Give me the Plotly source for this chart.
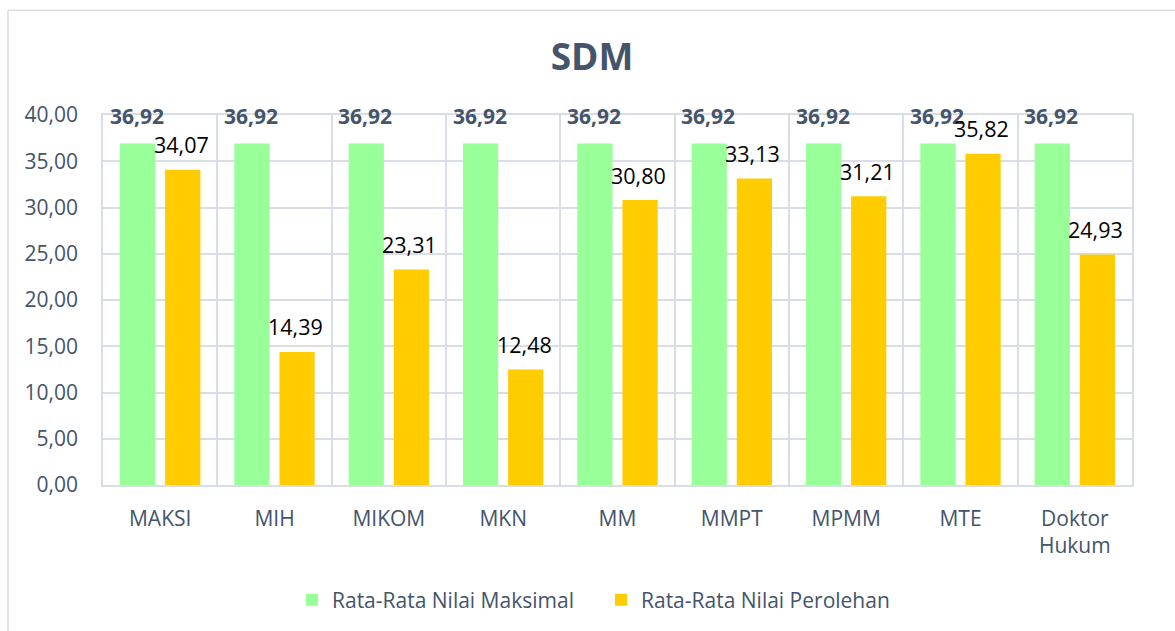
import plotly.graph_objects as go

categories = ["MAKSI", "MIH", "MIKOM", "MKN", "MM", "MMPT", "MPMM", "MTE", "Doktor<br>Hukum"]
maksimal = [36.92, 36.92, 36.92, 36.92, 36.92, 36.92, 36.92, 36.92, 36.92]
perolehan = [34.07, 14.39, 23.31, 12.48, 30.80, 33.13, 31.21, 35.82, 24.93]
y_ticks = [0, 5, 10, 15, 20, 25, 30, 35, 40]

def fmt(v):
    return f"{v:.2f}".replace(".", ",")

FONT = "Open Sans"
SLATE = "#44546a"
GRID = "#d9dee6"

fig = go.Figure()
fig.add_trace(go.Bar(name="Rata-Rata Nilai Maksimal", x=categories, y=maksimal,
                     marker=dict(color="#99ff99", line=dict(width=0)),
                     offsetgroup="a"))
fig.add_trace(go.Bar(name="Rata-Rata Nilai Perolehan", x=categories, y=perolehan,
                     marker=dict(color="#ffcc00", line=dict(width=0)),
                     offsetgroup="b"))

W, H = 1175, 631
L, T, R, B = 103, 115, 43, 145
pw = W - L - R
ph = H - T - B
n = len(categories)
for c, m, p in zip(categories, maksimal, perolehan):
    fig.add_annotation(x=c, y=m, text=f"<b>{fmt(m)}</b>", showarrow=False,
                       xshift=-pw / n * 0.205, yshift=27, yanchor="middle",
                       font=dict(family=FONT, size=21, color=SLATE))
    fig.add_annotation(x=c, y=p, text=fmt(p), showarrow=False,
                       xshift=pw / n * 0.185, yshift=25, yanchor="middle",
                       font=dict(family=FONT, size=21.5, color="#000000"))

# outer chart border (top and left)
ytop = (H - B - 10) / ph
xleft = (8 - L) / pw
fig.add_shape(type="line", xref="paper", yref="paper",
              x0=xleft, x1=(W + 20 - L) / pw, y0=ytop, y1=ytop,
              line=dict(color=GRID, width=1.5))
fig.add_shape(type="line", xref="paper", yref="paper",
              x0=xleft, x1=xleft, y0=ytop, y1=(H - B - H - 20) / ph,
              line=dict(color=GRID, width=1.5))

fig.update_layout(
    width=W, height=H,
    margin=dict(l=L, r=R, t=T, b=B),
    paper_bgcolor="white", plot_bgcolor="white",
    separators=",.",
    barmode="group", bargap=0.21, bargroupgap=0.22,
    title=dict(text="<b>SDM</b>", x=592 / W, xanchor="center", y=1 - 57 / H, yanchor="middle",
               font=dict(family=FONT, size=37, color=SLATE)),
    legend=dict(orientation="h", x=(292 - L) / pw, xanchor="left", y=-(600 - (H - B)) / ph,
                yanchor="middle", font=dict(family=FONT, size=21, color=SLATE),
                itemwidth=30, entrywidth=264, entrywidthmode="pixels",
                traceorder="normal"),
    xaxis=dict(type="category", tickson="boundaries", showgrid=True, gridcolor=GRID,
               gridwidth=1.5, showline=True, linecolor=GRID, linewidth=1.5, mirror=True,
               ticks="", ticklabelstandoff=14,
               tickfont=dict(family=FONT, size=21, color=SLATE)),
    yaxis=dict(range=[0, 40], tickvals=y_ticks, tickformat=".2f", showgrid=True,
               gridcolor=GRID, gridwidth=1.5, zeroline=False, showline=True,
               linecolor=GRID, linewidth=1.5, mirror=True, ticks="",
               ticklabelstandoff=19,
               tickfont=dict(family=FONT, size=21, color=SLATE)),
)

fig.write_html("out.html", config={"displayModeBar": False},
               post_script="document.body.style.margin='0';document.body.style.overflow='hidden';")
